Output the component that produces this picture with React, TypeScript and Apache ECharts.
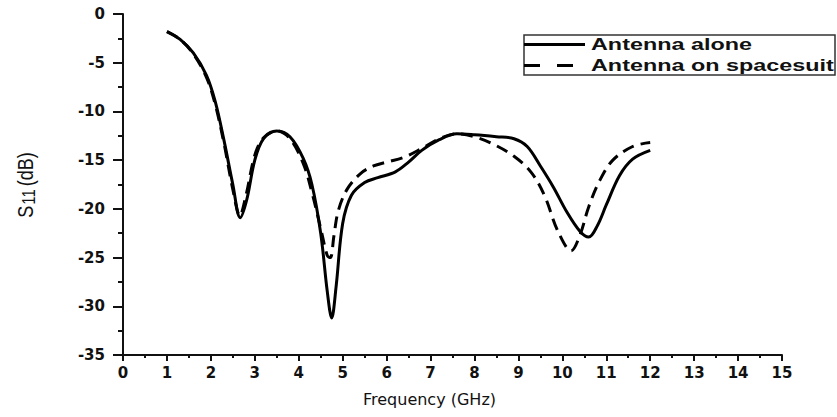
import React, { useEffect, useRef } from "react";
import * as echarts from "echarts";

// Frequency (GHz) and reflection coefficient S11 (dB) for each configuration
const aloneFreq = [1.0, 1.3, 1.6, 1.9, 2.1, 2.3, 2.5, 2.67, 2.82, 3.0, 3.2, 3.5, 3.8, 4.1, 4.3, 4.5, 4.65, 4.75, 4.85, 5.0, 5.2, 5.5, 5.8, 6.2, 6.5, 6.8, 7.2, 7.6, 8.0, 8.5, 8.9, 9.2, 9.5, 9.8, 10.1, 10.4, 10.6, 10.8, 11.0, 11.3, 11.6, 12.0];
const aloneS11 = [-1.8, -2.6, -4.0, -6.3, -9.0, -13.0, -17.5, -20.9, -19.0, -15.0, -12.8, -12.0, -12.6, -14.8, -17.5, -22.5, -28.5, -31.2, -28.0, -21.5, -18.6, -17.3, -16.8, -16.2, -15.2, -14.0, -12.9, -12.3, -12.4, -12.6, -12.8, -13.6, -15.6, -17.8, -20.3, -22.3, -22.9, -21.7, -19.6, -16.6, -14.9, -14.0];

const suitFreq = [1.0, 1.3, 1.6, 1.9, 2.1, 2.3, 2.5, 2.66, 2.8, 3.0, 3.2, 3.5, 3.8, 4.1, 4.3, 4.5, 4.65, 4.72, 4.8, 4.9, 5.1, 5.4, 5.7, 6.0, 6.4, 6.8, 7.2, 7.6, 8.0, 8.4, 8.9, 9.3, 9.6, 9.9, 10.2, 10.4, 10.6, 10.85, 11.15, 11.6, 12.0];
const suitS11 = [-1.8, -2.6, -4.1, -6.5, -9.3, -13.3, -18.0, -20.7, -18.6, -14.5, -12.7, -12.0, -12.8, -15.3, -18.3, -22.0, -24.8, -25.0, -22.8, -20.2, -18.0, -16.4, -15.6, -15.2, -14.7, -13.8, -12.8, -12.3, -12.6, -13.3, -14.6, -16.3, -18.7, -22.3, -24.3, -22.7, -19.8, -17.1, -15.0, -13.6, -13.2];

const seriesNames = ["Antenna alone", "Antenna on spacesuit"];

const SANS = "'Liberation Sans', Arial, sans-serif";
const WIDE = "'DejaVu Sans', sans-serif";
const INK = "#111";
const DASH = [12, 7];

function pairs(xs: number[], ys: number[]) {
  return xs.map((x, i) => [x, ys[i]]);
}

export default function App() {
  const ref = useRef<HTMLDivElement>(null);

  useEffect(() => {
    if (!ref.current) return;
    const chart = echarts.init(ref.current, undefined, { renderer: "svg" });

    const axisLine = { show: true, onZero: false, lineStyle: { color: INK, width: 2 } };
    const labelStyle = { color: INK, fontFamily: WIDE, fontSize: 15, fontWeight: "bold" as const };

    // Boxed legend in the upper right corner
    const legendLeft = 524;
    const legendTop = 35;
    const legendW = 311;
    const legendH = 40;
    const rowY = [44.5, 65.5];
    const legend = {
      type: "group",
      silent: true,
      children: [
        {
          type: "rect",
          shape: { x: legendLeft, y: legendTop, width: legendW, height: legendH },
          style: { fill: "#fff", stroke: "#333", lineWidth: 1.5 },
        },
        {
          type: "line",
          shape: { x1: legendLeft, y1: rowY[0], x2: 585, y2: rowY[0] },
          style: { stroke: "#000", lineWidth: 3 },
        },
        {
          type: "line",
          shape: { x1: legendLeft, y1: rowY[1], x2: 585, y2: rowY[1] },
          style: { stroke: "#000", lineWidth: 3, lineDash: [16, 17] },
        },
        ...seriesNames.map((name, i) => ({
          type: "text",
          x: 591,
          y: rowY[i],
          scaleX: 1.46,
          style: {
            text: name,
            fill: INK,
            font: `bold 16px ${SANS}`,
            textVerticalAlign: "middle",
            verticalAlign: "middle",
          },
        })),
      ],
    };

    // Rotated y-axis title with a subscript
    const yTitle = {
      type: "text",
      x: 25,
      y: 185,
      rotation: Math.PI / 2,
      scaleY: 1.25,
      silent: true,
      style: {
        text: "{s|S}{sub|11}{s|(dB)}",
        align: "center",
        verticalAlign: "middle",
        rich: {
          s: { fontSize: 18, fontFamily: SANS, fill: INK, lineHeight: 22, verticalAlign: "middle" },
          sub: { fontSize: 15, fontFamily: SANS, fill: INK, lineHeight: 22, padding: [10, 3, 0, 1], verticalAlign: "bottom" },
        },
      },
    };

    chart.setOption({
      animation: false,
      backgroundColor: "#fff",
      grid: { left: 123, right: 55, top: 14, bottom: 62, containLabel: false },
      xAxis: {
        type: "value",
        min: 0,
        max: 15,
        interval: 1,
        name: "Frequency (GHz)",
        nameLocation: "middle",
        nameGap: 36,
        nameTextStyle: { color: INK, fontFamily: WIDE, fontSize: 16, padding: [0, 46, 0, 0] },
        axisLine,
        axisTick: { show: true, inside: false, length: 6, lineStyle: { color: INK, width: 2 } },
        minorTick: { show: true, splitNumber: 2, length: 3, lineStyle: { color: INK, width: 2 } },
        splitLine: { show: false },
        axisLabel: { ...labelStyle, margin: 10 },
      },
      yAxis: {
        type: "value",
        min: -35,
        max: 0,
        interval: 5,
        axisLine,
        axisTick: { show: true, inside: false, length: 10, lineStyle: { color: INK, width: 2 } },
        minorTick: { show: true, splitNumber: 2, length: 5, lineStyle: { color: INK, width: 2 } },
        splitLine: { show: false },
        axisLabel: { ...labelStyle, margin: 18 },
      },
      graphic: [legend, yTitle],
      series: [
        {
          name: seriesNames[0],
          type: "line",
          data: pairs(aloneFreq, aloneS11),
          smooth: 0.35,
          symbol: "none",
          lineStyle: { color: "#000", width: 3 },
          itemStyle: { color: "#000" },
        },
        {
          name: seriesNames[1],
          type: "line",
          data: pairs(suitFreq, suitS11),
          smooth: 0.35,
          symbol: "none",
          lineStyle: { color: "#000", width: 3, type: DASH },
          itemStyle: { color: "#000" },
        },
      ],
    });

    return () => chart.dispose();
  }, []);

  return (
    <div
      ref={ref}
      style={{ position: "fixed", left: 0, top: 0, width: 837, height: 417, background: "#fff" }}
    />
  );
}
